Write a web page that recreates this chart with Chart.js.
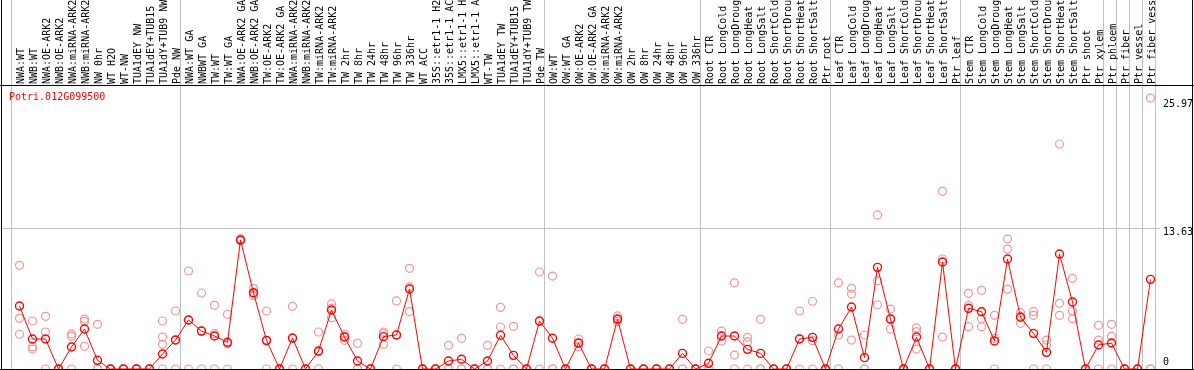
<!DOCTYPE html>
<html>
<head>
<meta charset="utf-8">
<script src="https://cdn.jsdelivr.net/npm/chart.js@4/dist/chart.umd.min.js"></script>
<style>
  html, body { margin: 0; padding: 0; background: #fff; }
  canvas { display: block; }
</style>
</head>
<body>
<canvas id="canv" width="1194" height="370"></canvas>
<script>
var geneName = "Potri.012G099500";

var categories = [
  "NWA:WT", "NWB:WT", "NWA:OE-ARK2", "NWB:OE-ARK2", "NWA:miRNA-ARK2", "NWB:miRNA-ARK2",
  "NW 0hr", "WT H2O", "WT-NW", "TUA1dEY NW", "TUA1dEY+TUB15", "TUA1dY+TUB9 NW", "Pde NW",
  "NWA:WT GA", "NWBWT GA", "TW:WT", "TW:WT GA", "NWA:OE-ARK2 GA", "NWB:OE-ARK2 GA",
  "TW:OE-ARK2", "TW:OE-ARK2 GA", "NWA:miRNA-ARK2", "NWB:miRNA-ARK2", "TW:miRNA-ARK2",
  "TW:miRNA-ARK2", "TW 2hr", "TW 8hr", "TW 24hr", "TW 48hr", "TW 96hr", "TW 336hr",
  "WT ACC", "35S::etr1-1 H2", "35S::etr1-1 AC", "LMX5::etr1-1 H", "LMX5::etr1-1 A",
  "WT-TW", "TUA1dEY TW", "TUA1dEY+TUB15", "TUA1dY+TUB9 TW", "Pde TW",
  "OW:WT", "OW:WT GA", "OW:OE-ARK2", "OW:OE-ARK2 GA", "OW:miRNA-ARK2", "OW:miRNA-ARK2",
  "OW 2hr", "OW 8hr", "OW 24hr", "OW 48hr", "OW 96hr", "OW 336hr",
  "Root CTR", "Root LongCold", "Root LongDroug", "Root LongHeat", "Root LongSalt",
  "Root ShortCold", "Root ShortDrou", "Root ShortHeat", "Root ShortSalt", "Ptr root",
  "Leaf CTR", "Leaf LongCold", "Leaf LongDroug", "Leaf LongHeat", "Leaf LongSalt",
  "Leaf ShortCold", "Leaf ShortDrou", "Leaf ShortHeat", "Leaf ShortSalt", "Ptr leaf",
  "Stem CTR", "Stem LongCold", "Stem LongDroug", "Stem LongHeat", "Stem LongSalt",
  "Stem ShortCold", "Stem ShortDrou", "Stem ShortHeat", "Stem ShortSalt", "Ptr shoot",
  "Ptr xylem", "Ptr phloem", "Ptr fiber", "Ptr vessel", "Ptr fiber vess"
];

// mean value of each sample (red line)
var means = [
  6.09, 2.9, 2.9, 0, 2.13, 3.87, 0.84, 0, 0, 0, 0, 1.45, 2.8,
  4.74, 3.67, 3.19, 2.58, 12.48, 7.38, 2.77, 0, 3.0, 0, 1.74, 5.71, 3.09,
  0.77, 0, 3.13, 3.29, 7.74, 0, 0, 0.77, 0.94, 0, 0.77, 3.26, 1.32, 0, 4.64,
  2.97, 0, 2.51, 0, 0, 4.83, 0, 0, 0, 0, 1.51, 0,
  0.55, 3.19, 3.19, 1.9, 1.51, 0, 0, 2.9, 3.06, 0,
  3.87, 6.0, 1.1, 9.83, 4.83, 0, 3.09, 0, 10.35, 0,
  5.87, 5.54, 2.71, 10.64, 5.0, 3.45, 1.61, 11.12, 6.48, 0,
  2.32, 2.51, 0, 0, 8.67
];

// single replicate values of each sample (pale circles)
var replicates = [
  [10.03, 4.9, 3.36], [4.64, 2.16, 1.93], [5.09, 3.58, 0], [0, 0, 0], [3.38, 3.16, 0],
  [4.83, 4.6, 2.19], [4.32, 0, 0], [0, 0, 0], [0, 0, 0], [0, 0, 0], [0, 0, 0],
  [4.64, 3.09, 2.39, 0], [5.61, 2.8, 0],
  [9.48, 4.74, 0], [7.35, 3.66, 0], [6.16, 3.42, 0], [5.29, 2.45, 0], [12.6, 12.4, 12.45],
  [7.8, 7.09, 7.25], [5.61, 2.7, 0], [0, 0, 0], [6.06, 2.95, 0], [0, 0, 0], [3.58, 1.64, 0],
  [6.29, 5.88, 4.96], [3.36, 3.14, 2.77], [2.48, 0, 0], [0, 0, 0], [3.58, 3.42, 2.39],
  [6.58, 3.29, 0], [9.74, 7.94, 5.54], [0, 0, 0], [0, 0, 0], [2.29, 0, 0], [2.97, 0, 0],
  [0, 0, 0], [2.29, 0, 0], [5.96, 4.06, 0], [4.13, 0, 0], [0, 0, 0], [9.38, 4.6, 0],
  [8.99, 0, 0], [0, 0, 0], [2.9, 2.47, 2.16], [0, 0, 0], [0, 0, 0], [5.13, 4.78, 4.58],
  [0, 0, 0], [0, 0, 0], [0, 0, 0], [0, 0, 0], [4.8, 0, 0], [0, 0, 0],
  [1.74, 0, 0], [3.67, 3.19, 2.71], [8.32, 1.35, 0], [3.06, 2.64, 0], [4.8, 0, 0],
  [0, 0, 0], [0, 0, 0], [5.61, 2.9, 0], [6.55, 2.74, 0], [0, 0, 0],
  [8.32, 3.29, 0], [7.8, 7.25, 2.8], [3.29, 0, 0], [14.9, 8.54, 6.19], [5.8, 4.83, 3.87],
  [0, 0, 0], [3.97, 3.61, 1.93], [0, 0, 0], [17.18, 10.64, 3.09], [0, 0, 0],
  [7.32, 6.16, 4.09], [7.61, 4.87, 4.09], [5.19, 2.97, 0], [12.57, 11.6, 7.71],
  [5.45, 5.1, 4.42], [5.54, 5.19, 0], [2.8, 2.32, 0], [21.76, 6.35, 5.19],
  [8.77, 5.61, 4.87], [0, 0, 0],
  [4.22, 2.8, 0], [4.32, 3.16, 0], [0, 0, 0], [0, 0, 0], [26.2, 0, 0]
];

// last sample index of each group, a gray line is drawn after it
var groupEnds = [-1, 12, 40, 52, 62, 72, 83, 84, 85, 86, 87];

var yTicks = [0, 13.63, 25.97];
var yTickLabels = ["0", "13.63", "25.97"];

var monoFont = "10px 'DejaVu Sans Mono', monospace";

var meanPoints = [];
for (var i = 0; i < means.length; i++) {
  meanPoints.push({x: i, y: means[i]});
}
var repPoints = [];
for (var i = 0; i < replicates.length; i++) {
  for (var j = 0; j < replicates[i].length; j++) {
    repPoints.push({x: i, y: replicates[i][j]});
  }
}

var framePlugin = {
  id: "frame",
  beforeDraw: function(chart) {
    var ctx = chart.ctx;
    var xs = chart.scales.x, ys = chart.scales.y;
    var area = chart.chartArea;
    ctx.save();
    ctx.fillStyle = "#fff";
    ctx.fillRect(0, 0, chart.width, chart.height);
    ctx.strokeStyle = "#c0c0c0";
    ctx.lineWidth = 1;
    ctx.beginPath();
    for (var k = 0; k < groupEnds.length; k++) {
      var px = Math.round(xs.getPixelForValue(groupEnds[k] + 0.37)) + 0.5;
      ctx.moveTo(px, 0);
      ctx.lineTo(px, area.bottom);
    }
    var gy = Math.round(ys.getPixelForValue(yTicks[1])) + 0.5;
    ctx.moveTo(area.left, gy);
    ctx.lineTo(area.right + 5, gy);
    ctx.stroke();
    ctx.restore();
  },
  afterDraw: function(chart) {
    var ctx = chart.ctx;
    var ys = chart.scales.y;
    var area = chart.chartArea;
    ctx.save();
    ctx.strokeStyle = "#000";
    ctx.lineWidth = 1;
    ctx.beginPath();
    ctx.moveTo(0, area.top - 0.5);
    ctx.lineTo(chart.width, area.top - 0.5);
    ctx.moveTo(0, area.bottom + 0.5);
    ctx.lineTo(chart.width, area.bottom + 0.5);
    ctx.moveTo(1.5, 0);
    ctx.lineTo(1.5, chart.height);
    ctx.moveTo(chart.width - 1.5, 0);
    ctx.lineTo(chart.width - 1.5, chart.height);
    ctx.stroke();

    ctx.font = monoFont;
    ctx.fillStyle = "#ff0000";
    ctx.textAlign = "left";
    ctx.textBaseline = "middle";
    ctx.fillText(geneName, 9, area.top + 11);

    ctx.fillStyle = "#000";
    for (var k = 0; k < yTicks.length; k++) {
      var py = ys.getPixelForValue(yTicks[k]);
      py = yTicks[k] == 0 ? py - 7 : py + 4;
      ctx.fillText(yTickLabels[k], area.right + 8, py);
    }
    ctx.restore();
  }
};

var chart = new Chart(document.getElementById("canv"), {
  type: "line",
  data: {
    datasets: [{
      data: meanPoints,
      borderColor: "#ff0000",
      borderWidth: 1,
      pointRadius: 4,
      pointBorderWidth: 1.4,
      pointBorderColor: "#ff0000",
      pointBackgroundColor: "rgba(0,0,0,0)",
      tension: 0,
      fill: false,
      clip: false
    }, {
      type: "scatter",
      data: repPoints,
      showLine: false,
      pointRadius: 4,
      pointBorderWidth: 1.2,
      pointBorderColor: "rgb(240,150,150)",
      pointBackgroundColor: "rgba(0,0,0,0)",
      clip: false
    }]
  },
  options: {
    responsive: false,
    animation: false,
    devicePixelRatio: 1,
    layout: {
      autoPadding: false,
      padding: {left: 1, right: 39, top: 0, bottom: 1}
    },
    plugins: {
      legend: {display: false},
      tooltip: {enabled: false},
      title: {display: false}
    },
    scales: {
      x: {
        type: "linear",
        position: "top",
        min: -1.423,
        max: 87.346,
        grid: {display: false, drawTicks: false},
        border: {display: false},
        afterBuildTicks: function(scale) {
          scale.ticks = categories.map(function(c, i) { return {value: i}; });
        },
        afterFit: function(scale) {
          scale.height = 86;
        },
        ticks: {
          autoSkip: false,
          minRotation: 90,
          maxRotation: 90,
          padding: 2,
          labelOffset: 14,
          color: "#000",
          font: {family: "'DejaVu Sans Mono', monospace", size: 10},
          callback: function(v) {
            return categories[v] !== undefined ? categories[v] : "";
          }
        }
      },
      y: {
        type: "linear",
        min: 0,
        max: 27.37,
        display: false
      }
    }
  },
  plugins: [framePlugin]
});
</script>
</body>
</html>
